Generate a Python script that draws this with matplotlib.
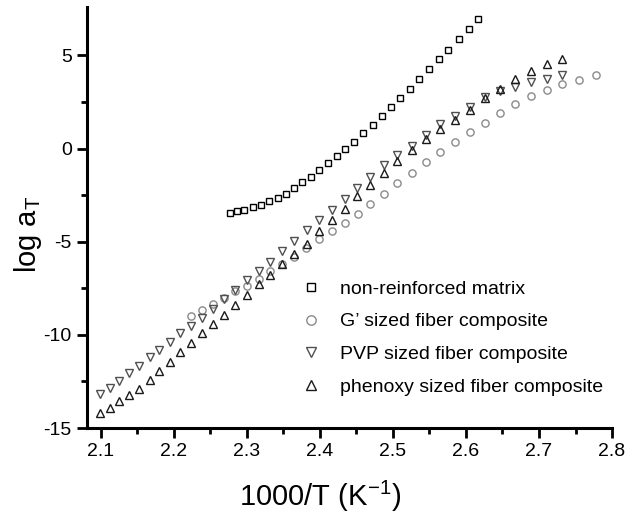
import numpy as np
import matplotlib
matplotlib.use("Agg")
import matplotlib.pyplot as plt

plt.rcParams['font.family'] = ['Liberation Sans', 'DejaVu Sans']
plt.rcParams['mathtext.fontset'] = 'custom'
plt.rcParams['mathtext.rm'] = 'Liberation Sans'
plt.rcParams['axes.unicode_minus'] = False

# non-reinforced matrix
x_matrix = [2.277, 2.286, 2.296, 2.308, 2.319, 2.330, 2.342, 2.353, 2.364, 2.376,
            2.388, 2.399, 2.411, 2.423, 2.435, 2.447, 2.459, 2.472, 2.485, 2.497,
            2.510, 2.523, 2.536, 2.549, 2.563, 2.576, 2.590, 2.604, 2.617]
y_matrix = [-3.45, -3.36, -3.27, -3.16, -3.04, -2.84, -2.64, -2.43, -2.13, -1.82,
            -1.50, -1.16, -0.80, -0.41, -0.04, 0.38, 0.82, 1.27, 1.75, 2.21,
            2.72, 3.22, 3.73, 4.27, 4.79, 5.32, 5.88, 6.43, 6.98]

# G' sized fiber composite
x_g = [2.224, 2.238, 2.254, 2.269, 2.284, 2.300, 2.316, 2.332, 2.348, 2.365,
       2.381, 2.399, 2.416, 2.434, 2.452, 2.469, 2.488, 2.506, 2.526, 2.545,
       2.564, 2.585, 2.605, 2.626, 2.646, 2.667, 2.689, 2.711, 2.732, 2.755, 2.778]
y_g = [-8.97, -8.64, -8.34, -8.00, -7.65, -7.36, -7.00, -6.59, -6.18, -5.83,
       -5.36, -4.88, -4.43, -3.98, -3.50, -2.95, -2.43, -1.86, -1.31, -0.73,
       -0.18, 0.36, 0.89, 1.39, 1.91, 2.40, 2.82, 3.16, 3.47, 3.70, 3.93]

# PVP and phenoxy sized fiber composites (same temperatures)
x_fib = [2.099, 2.112, 2.125, 2.139, 2.152, 2.167, 2.180, 2.195, 2.209, 2.224,
         2.238, 2.253, 2.268, 2.284, 2.300, 2.316, 2.332, 2.348, 2.365, 2.382,
         2.399, 2.416, 2.434, 2.451, 2.469, 2.488, 2.506, 2.526, 2.545, 2.564,
         2.585, 2.605, 2.626, 2.646, 2.667, 2.689, 2.711, 2.732]
y_pvp = [-13.20, -12.84, -12.45, -12.04, -11.65, -11.18, -10.81, -10.38, -9.90, -9.52,
         -9.10, -8.61, -8.09, -7.61, -7.07, -6.55, -6.07, -5.49, -4.98, -4.36,
         -3.86, -3.32, -2.73, -2.11, -1.50, -0.87, -0.34, 0.16, 0.75, 1.30,
         1.77, 2.25, 2.75, 3.07, 3.32, 3.59, 3.75, 3.97]
y_phen = [-14.19, -13.90, -13.57, -13.24, -12.88, -12.42, -11.95, -11.45, -10.93, -10.43,
          -9.91, -9.39, -8.91, -8.40, -7.84, -7.29, -6.77, -6.18, -5.68, -5.11,
          -4.43, -3.82, -3.23, -2.56, -1.93, -1.29, -0.64, -0.08, 0.52, 1.07,
          1.54, 2.07, 2.70, 3.22, 3.71, 4.14, 4.54, 4.79]

fig = plt.figure(figsize=(6.29, 5.21), dpi=100)
ax = fig.add_axes([0.1383, 0.1785, 0.8347, 0.808])

ax.plot(x_matrix, y_matrix, 's', ms=4.5, mfc='none', mec='black', mew=1.0,
        label='non-reinforced matrix')
ax.plot(x_g, y_g, 'o', ms=5.2, mfc='none', mec='#8a8a8a', mew=1.0,
        label="G\u2019 sized fiber composite")
ax.plot(x_fib, y_pvp, 'v', ms=5.5, mfc='none', mec='#505050', mew=1.0,
        label='PVP sized fiber composite')
ax.plot(x_fib, y_phen, '^', ms=5.5, mfc='none', mec='#1a1a1a', mew=1.0,
        label='phenoxy sized fiber composite')

ax.set_xlim(2.081, 2.8)
ax.set_ylim(-15, 7.6)
ax.set_xticks(np.arange(2.1, 2.81, 0.1))
ax.set_xticks(np.arange(2.15, 2.8, 0.1), minor=True)
ax.set_yticks([-15, -10, -5, 0, 5])
ax.set_yticks([-12.5, -7.5, -2.5, 2.5], minor=True)
ax.set_xticklabels(['2.1', '2.2', '2.3', '2.4', '2.5', '2.6', '2.7', '2.8'])

for s in ['top', 'right']:
    ax.spines[s].set_visible(False)
for s in ['left', 'bottom']:
    ax.spines[s].set_linewidth(2.2)

ax.tick_params(which='major', direction='out', length=7, width=2, labelsize=14, pad=4)
ax.tick_params(which='minor', direction='out', length=4.5, width=2)

ax.set_xlabel('1000/T (K$^{{-}1}$)', fontsize=21)
ax.xaxis.set_label_coords(0.444, -0.12)
ax.set_ylabel('log a$_{\\rm T}$', fontsize=21)
ax.yaxis.set_label_coords(-0.082, 0.46)

ax.legend(loc='upper left', bbox_to_anchor=(0.394, 0.37), frameon=False,
          fontsize=14, markerscale=1.3, handlelength=1.0, handletextpad=0.95,
          labelspacing=0.78, borderaxespad=0)

fig.savefig('out.png', dpi=100)
